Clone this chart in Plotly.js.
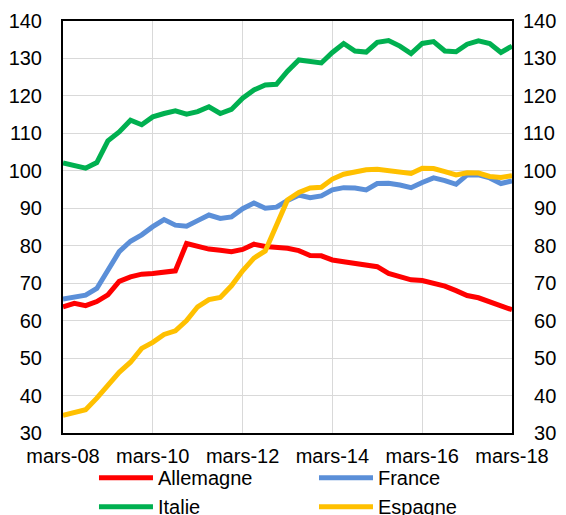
<!DOCTYPE html>
<html>
<head>
<meta charset="utf-8">
<script src="https://cdn.plot.ly/plotly-3.0.1.min.js"></script>
<style>html,body{margin:0;padding:0;background:#fff;}#chart{width:566px;height:515px;}</style>
</head>
<body>
<div id="chart"></div>
<script>
var quarters = [
 "2008-03-01","2008-06-01","2008-09-01","2008-12-01",
 "2009-03-01","2009-06-01","2009-09-01","2009-12-01",
 "2010-03-01","2010-06-01","2010-09-01","2010-12-01",
 "2011-03-01","2011-06-01","2011-09-01","2011-12-01",
 "2012-03-01","2012-06-01","2012-09-01","2012-12-01",
 "2013-03-01","2013-06-01","2013-09-01","2013-12-01",
 "2014-03-01","2014-06-01","2014-09-01","2014-12-01",
 "2015-03-01","2015-06-01","2015-09-01","2015-12-01",
 "2016-03-01","2016-06-01","2016-09-01","2016-12-01",
 "2017-03-01","2017-06-01","2017-09-01","2017-12-01",
 "2018-03-01"
];
var allemagne = [63.7,64.6,64.0,65.1,66.9,70.5,71.7,72.4,72.6,73.1,73.3,80.6,79.7,79.1,78.8,78.4,79.0,80.4,79.8,79.7,79.3,78.7,77.4,77.3,76.2,75.7,75.3,74.7,74.4,72.6,71.8,70.9,70.7,70.0,69.2,68.0,66.7,66.1,65.1,64.0,62.9];
var france = [65.8,66.2,66.8,68.6,73.3,78.4,81.2,82.9,85.1,87.0,85.5,85.2,86.7,88.2,87.3,87.7,89.9,91.4,90.0,90.3,92.1,93.5,92.8,93.3,94.9,95.5,95.4,94.9,96.6,96.7,96.2,95.5,96.9,98.1,97.4,96.4,98.9,98.9,98.1,96.6,97.3];
var italie = [102.1,101.4,100.7,102.2,108.0,110.4,113.5,112.3,114.4,115.3,116.0,115.1,115.8,117.1,115.3,116.4,119.4,121.6,122.9,123.1,126.6,129.6,129.1,128.8,131.6,134.0,132.0,131.7,134.3,134.8,133.3,131.3,134.0,134.5,132.0,131.8,133.8,134.7,134.0,131.6,133.3];
var espagne = [34.7,35.3,36.2,39.3,42.5,46.2,48.9,52.6,54.2,56.3,57.3,60.0,63.7,65.6,66.2,69.3,73.3,76.7,78.6,85.2,92.2,94.2,95.4,95.6,97.8,99.1,99.6,100.3,100.4,100.0,99.8,99.3,100.7,100.6,99.8,98.9,99.5,99.4,98.5,98.2,98.7];
var tickDates = ["2008-03-01","2010-03-01","2012-03-01","2014-03-01","2016-03-01","2018-03-01"];
var tickLabels = ["mars-08","mars-10","mars-12","mars-14","mars-16","mars-18"];
var yTicks = [30,40,50,60,70,80,90,100,110,120,130,140];
var yTickLabels = ["30","40","50","60","70","80","90","100","110","120","130","140"];

var seriesNames = ["Allemagne","France","Italie","Espagne"];
var seriesData = [allemagne, france, italie, espagne];
var seriesColors = ["#FF0000","#5B8FD8","#00B050","#FFC000"];

var traces = seriesNames.map(function(n,i){
  return {x: quarters, y: seriesData[i], name: n, type: "scatter", mode: "lines",
    line: {color: seriesColors[i], width: 5}, hoverinfo: "x+y+name"};
});
traces.push({x: quarters, y: italie, yaxis: "y2", type: "scatter", mode: "lines",
  line: {width: 0, color: "rgba(0,0,0,0)"}, showlegend: false, hoverinfo: "skip"});

// right-side labels are right-aligned in the reference: pad with figure spaces
var rightLabels = yTickLabels.map(function(t){ return (t.length < 3 ? "\u2007" : "") + t; });

var font = {family: "Liberation Sans, Arial, sans-serif", size: 20, color: "#000"};
var yCommon = {range: [30,140], tickvals: yTicks, ticks: "", showgrid: true,
  gridcolor: "#d9d9d9", gridwidth: 1, zeroline: false, showline: true,
  linecolor: "#000", linewidth: 2, tickfont: font, fixedrange: true};

var layout = {
  width: 566, height: 515,
  margin: {l: 63, r: 54, t: 21, b: 82, autoexpand: false},
  paper_bgcolor: "#fff", plot_bgcolor: "#fff",
  font: font,
  showlegend: true,
  xaxis: {type: "date", range: ["2008-03-01","2018-03-01"], tickvals: tickDates, ticktext: tickLabels,
    ticks: "", showgrid: true, gridcolor: "#d9d9d9", gridwidth: 1, zeroline: false,
    showline: true, mirror: true, linecolor: "#000", linewidth: 2, tickfont: font,
    ticklabelstandoff: 4, fixedrange: true},
  yaxis: Object.assign({}, yCommon, {side: "left", ticktext: yTickLabels, ticklabelstandoff: 15}),
  yaxis2: Object.assign({}, yCommon, {side: "right", overlaying: "y", showgrid: false,
    ticktext: rightLabels, ticklabelstandoff: 5}),
  legend: {orientation: "h", x: 0.069, xanchor: "left", y: -0.061, yanchor: "top",
    entrywidth: 0.49, entrywidthmode: "fraction", itemwidth: 54, font: font,
    bgcolor: "rgba(0,0,0,0)", traceorder: "normal"}
};

Plotly.newPlot("chart", traces, layout, {staticPlot: true, displayModeBar: false});
</script>
</body>
</html>
